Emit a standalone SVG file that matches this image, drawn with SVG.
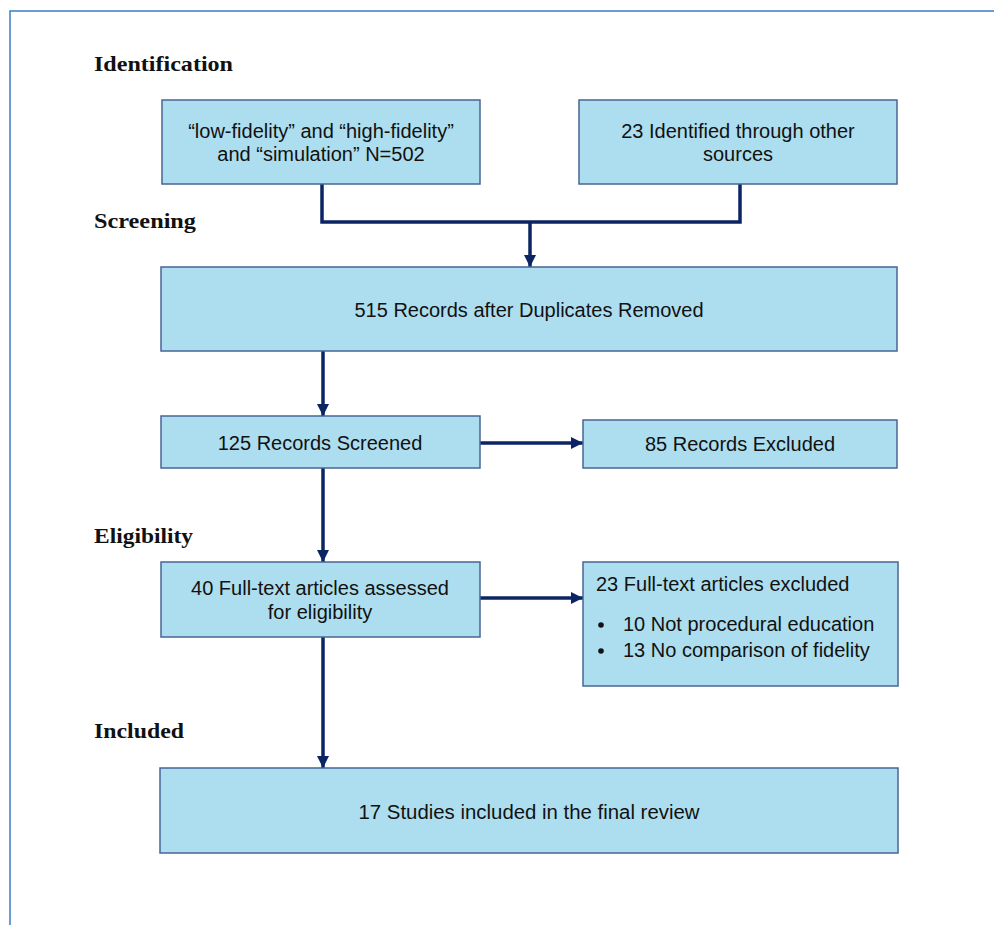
<svg xmlns="http://www.w3.org/2000/svg" width="994" height="925" viewBox="0 0 994 925">
<defs>
<style>
.box{fill:#addeef;stroke:#4a6496;stroke-width:1.5}
.t{font-family:"Liberation Sans",Arial,sans-serif;font-size:20px;fill:#111}
.h{font-family:"Liberation Serif","DejaVu Serif",serif;font-weight:bold;font-size:22px;fill:#111}
.c{fill:none;stroke:#0b2463;stroke-width:3.5}
</style>
<marker id="av" viewBox="0 0 12 12" refX="12" refY="6" markerWidth="12" markerHeight="12" orient="auto" markerUnits="userSpaceOnUse">
<path d="M0,0 L12,6 L0,12 z" fill="#0b2463"/>
</marker>
</defs>
<rect x="0" y="0" width="994" height="925" fill="#fff"/>
<path d="M10,925 V11 H994" fill="none" stroke="#3d7cc9" stroke-width="1.5"/>
<g id="stage-labels">
<text class="h" x="94" y="71" textLength="139" lengthAdjust="spacingAndGlyphs">Identification</text>
<text class="h" x="94" y="228" textLength="102" lengthAdjust="spacingAndGlyphs">Screening</text>
<text class="h" x="94" y="543" textLength="99" lengthAdjust="spacingAndGlyphs">Eligibility</text>
<text class="h" x="94" y="738" textLength="90" lengthAdjust="spacingAndGlyphs">Included</text>
</g>
<g id="connectors">
<path class="c" d="M322,184 V222 H740 V184"/>
<path class="c" d="M530,222 V267" marker-end="url(#av)"/>
<path class="c" d="M323,351 V416" marker-end="url(#av)"/>
<path class="c" d="M480,443 H583" marker-end="url(#av)"/>
<path class="c" d="M323,468 V562" marker-end="url(#av)"/>
<path class="c" d="M480,598 H583" marker-end="url(#av)"/>
<path class="c" d="M323,637 V768" marker-end="url(#av)"/>
</g>
<g id="n1">
<rect class="box" x="162" y="100" width="318" height="84"/>
<text class="t" text-anchor="middle" x="321" y="138">“low-fidelity” and “high-fidelity”</text>
<text class="t" text-anchor="middle" x="321" y="161">and “simulation” N=502</text>
</g>
<g id="n2">
<rect class="box" x="579" y="100" width="318" height="84"/>
<text class="t" text-anchor="middle" x="738" y="138">23 Identified through other</text>
<text class="t" text-anchor="middle" x="738" y="161">sources</text>
</g>
<g id="n3">
<rect class="box" x="161" y="267" width="736" height="84"/>
<text class="t" text-anchor="middle" x="529" y="317">515 Records after Duplicates Removed</text>
</g>
<g id="n4">
<rect class="box" x="161" y="416" width="319" height="52"/>
<text class="t" text-anchor="middle" x="320" y="450">125 Records Screened</text>
</g>
<g id="n5">
<rect class="box" x="583" y="420" width="314" height="48"/>
<text class="t" text-anchor="middle" x="740" y="451">85 Records Excluded</text>
</g>
<g id="n6">
<rect class="box" x="161" y="562" width="319" height="75"/>
<text class="t" text-anchor="middle" x="320" y="595">40 Full-text articles assessed</text>
<text class="t" text-anchor="middle" x="320" y="619">for eligibility</text>
</g>
<g id="n7">
<rect class="box" x="583" y="562" width="315" height="124"/>
<text class="t" x="596" y="591">23 Full-text articles excluded</text>
<circle cx="601" cy="625" r="2.8" fill="#111"/>
<circle cx="601" cy="651" r="2.8" fill="#111"/>
<text class="t" x="623" y="631">10 Not procedural education</text>
<text class="t" x="623" y="657">13 No comparison of fidelity</text>
</g>
<g id="n8">
<rect class="box" x="160" y="768" width="738" height="85"/>
<text class="t" text-anchor="middle" x="529" y="819" textLength="341" lengthAdjust="spacingAndGlyphs">17 Studies included in the final review</text>
</g>
</svg>
